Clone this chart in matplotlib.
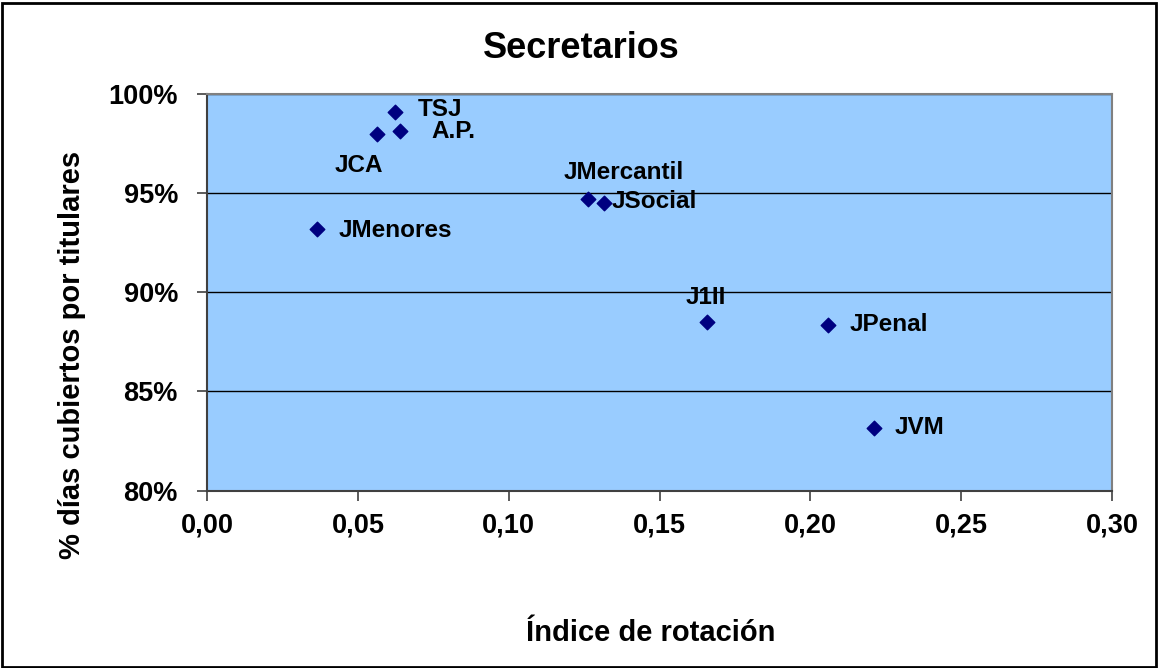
import matplotlib.pyplot as plt
from matplotlib.patches import Rectangle
from matplotlib.ticker import FuncFormatter, MultipleLocator

# rotation index vs. % of days covered by the post holder
labels = ["TSJ", "A.P.", "JCA", "JMenores", "JMercantil", "JSocial", "J1II", "JPenal", "JVM"]
rotacion = [0.0622, 0.0640, 0.0564, 0.0365, 0.1263, 0.1317, 0.1656, 0.2059, 0.2211]
cubiertos = [99.08, 98.15, 97.98, 93.19, 94.69, 94.49, 88.51, 88.35, 83.17]

# label offsets in pixels from each marker (left edge of text, vertical centre)
offsets = [(23, 3), (31, -1), (-43, -31), (21, -1), (-24, 27), (7, 2), (-21, 24), (21, 0), (21, 0)]

plt.rcParams["font.family"] = ["Liberation Sans", "DejaVu Sans"]
plt.rcParams["font.weight"] = "bold"

fig = plt.figure(figsize=(11.58, 6.68), dpi=100)
ax = fig.add_axes([0.1788, 0.2657, 0.9603 - 0.1788, 0.8593 - 0.2657])
ax.set_facecolor("#99CCFF")

ax.scatter(rotacion, cubiertos, marker="D", s=55, color="#000080", zorder=3)
for x, y, name, (dx, dy) in zip(rotacion, cubiertos, labels, offsets):
    ax.annotate(name, (x, y), xytext=(dx, dy), textcoords="offset pixels",
                ha="left", va="center", fontsize=17.5, fontweight="bold", zorder=4)

ax.set_xlim(0, 0.30)
ax.set_ylim(80, 100)
ax.xaxis.set_major_locator(MultipleLocator(0.05))
ax.yaxis.set_major_locator(MultipleLocator(5))
ax.xaxis.set_major_formatter(FuncFormatter(lambda v, p: f"{v:.2f}".replace(".", ",")))
ax.yaxis.set_major_formatter(FuncFormatter(lambda v, p: f"{v:.0f}%"))
ax.grid(axis="y", color="black", linewidth=1)
ax.set_axisbelow(True)

ax.tick_params(axis="both", direction="out", length=7, width=1.2, color="#404040",
               labelsize=19.5)
ax.tick_params(axis="x", pad=9)
ax.tick_params(axis="y", pad=14)
for lab in ax.get_xticklabels() + ax.get_yticklabels():
    lab.set_fontweight("bold")

for side in ["left", "bottom"]:
    ax.spines[side].set_color("#404040")
    ax.spines[side].set_linewidth(1.5)
for side in ["top", "right"]:
    ax.spines[side].set_color("#808080")
    ax.spines[side].set_linewidth(1.5)

fig.text(0.502, 0.928, "Secretarios", ha="center", va="center", fontsize=26, fontweight="bold")
fig.text(0.562, 0.052, "Índice de rotación", ha="center", va="center", fontsize=21, fontweight="bold")
fig.text(0.062, 0.468, "% días cubiertos por titulares", ha="center", va="center",
         rotation=90, fontsize=21, fontweight="bold")

# chart frame
fig.patches.append(Rectangle((0.002, 0.002), 0.996, 0.994, transform=fig.transFigure,
                             fill=False, edgecolor="black", linewidth=2))

fig.savefig("out.png", dpi=100)
